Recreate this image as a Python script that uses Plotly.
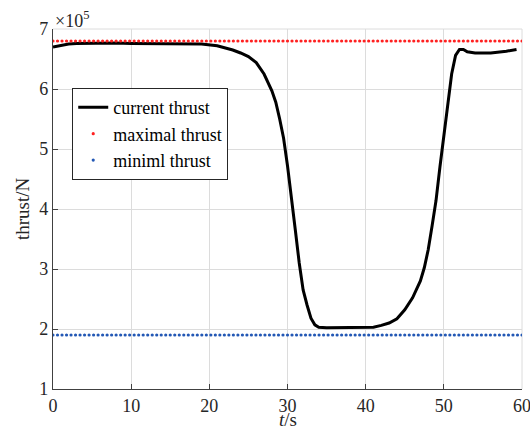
import numpy as np
import plotly.graph_objects as go

# time (s) and current thrust (x1e5 N)
t = [0, 1, 2, 3, 5, 8, 10, 13, 16, 19, 21, 22, 23, 24, 25, 26, 27, 28, 28.5, 29, 29.5,
     30, 30.5, 31, 31.5, 32, 32.5, 33, 33.5, 34, 35, 37, 40, 41, 42, 43, 44, 45, 46,
     47, 47.5, 48, 48.5, 49, 49.5, 50, 50.5, 51, 51.5, 52, 52.5, 53, 54, 56, 58, 59.3]
thrust = [6.70, 6.73, 6.75, 6.76, 6.765, 6.765, 6.76, 6.76, 6.755, 6.75, 6.72, 6.69, 6.65,
          6.60, 6.54, 6.44, 6.25, 5.97, 5.78, 5.50, 5.18, 4.72, 4.22, 3.65, 3.10, 2.65,
          2.40, 2.18, 2.07, 2.03, 2.02, 2.02, 2.02, 2.03, 2.06, 2.10, 2.17, 2.32, 2.52,
          2.80, 3.02, 3.32, 3.72, 4.14, 4.70, 5.25, 5.72, 6.25, 6.56, 6.66, 6.66, 6.62,
          6.60, 6.60, 6.63, 6.66]
max_thrust = 6.8
min_thrust = 1.9
t_const = np.linspace(0, 60, 105)

x_ticks = [0, 10, 20, 30, 40, 50, 60]
y_ticks = [1, 2, 3, 4, 5, 6, 7]

FONT = "Liberation Serif"

fig = go.Figure()
fig.add_trace(go.Scatter(x=t, y=thrust, mode="lines", name="current thrust",
                         line=dict(color="black", width=3)))
fig.add_trace(go.Scatter(x=t_const, y=[max_thrust] * len(t_const), mode="markers",
                         name="maximal thrust",
                         marker=dict(color="#ff2020", size=3.2)))
fig.add_trace(go.Scatter(x=t_const, y=[min_thrust] * len(t_const), mode="markers",
                         name="miniml thrust",
                         marker=dict(color="#2358b5", size=3.2)))

fig.update_layout(
    width=530, height=433,
    margin=dict(l=52.5, r=7.5, t=28.5, b=44, autoexpand=False),
    paper_bgcolor="white", plot_bgcolor="white",
    font=dict(family=FONT, size=18, color="#262626"),
    showlegend=True,
    legend=dict(x=0.041, y=0.836, xanchor="left", yanchor="top",
                bgcolor="white", bordercolor="#262626", borderwidth=1,
                font=dict(family=FONT, size=18, color="black"),
                tracegroupgap=0, itemsizing="trace", itemwidth=30),
    xaxis=dict(range=[0, 60], tickvals=x_ticks, showgrid=True, gridcolor="#dcdcdc",
               gridwidth=1, zeroline=False, showline=True, linecolor="#404040",
               linewidth=1.2, ticks="inside", ticklen=5, tickcolor="#404040",
               automargin=False, ticklabeloverflow="allow"),
    yaxis=dict(range=[1, 7], tickvals=y_ticks, showgrid=True, gridcolor="#dcdcdc",
               gridwidth=1, zeroline=False, showline=True, linecolor="#404040",
               linewidth=1.2, ticks="inside", ticklen=5, tickcolor="#404040",
               automargin=False, ticklabeloverflow="allow"),
)

# light top/right box edges
fig.add_shape(type="line", xref="paper", yref="paper", x0=0, x1=1, y0=1, y1=1,
              line=dict(color="#dcdcdc", width=1), layer="below")
fig.add_shape(type="line", xref="paper", yref="paper", x0=1, x1=1, y0=0, y1=1,
              line=dict(color="#dcdcdc", width=1), layer="below")

# axis titles
fig.add_annotation(text="<i>t</i>/s", xref="paper", yref="paper", x=0.5, y=0,
                   xanchor="center", yanchor="middle", yshift=-30, showarrow=False,
                   font=dict(family=FONT, size=19, color="#262626"))
fig.add_annotation(text="thrust/N", xref="paper", yref="paper", x=0, y=0.5,
                   xanchor="center", yanchor="middle", xshift=-31, textangle=-90,
                   showarrow=False, font=dict(family=FONT, size=19, color="#262626"))

fig.add_annotation(text="×10<sup>5</sup>", xref="paper", yref="paper", x=0.0, y=1.0,
                   xanchor="left", yanchor="bottom", showarrow=False, yshift=-4,
                   font=dict(family=FONT, size=18, color="#262626"))

fig.write_html("out.html", config={"displayModeBar": False},
               post_script="document.body.style.margin='0';document.body.style.overflow='hidden';")
